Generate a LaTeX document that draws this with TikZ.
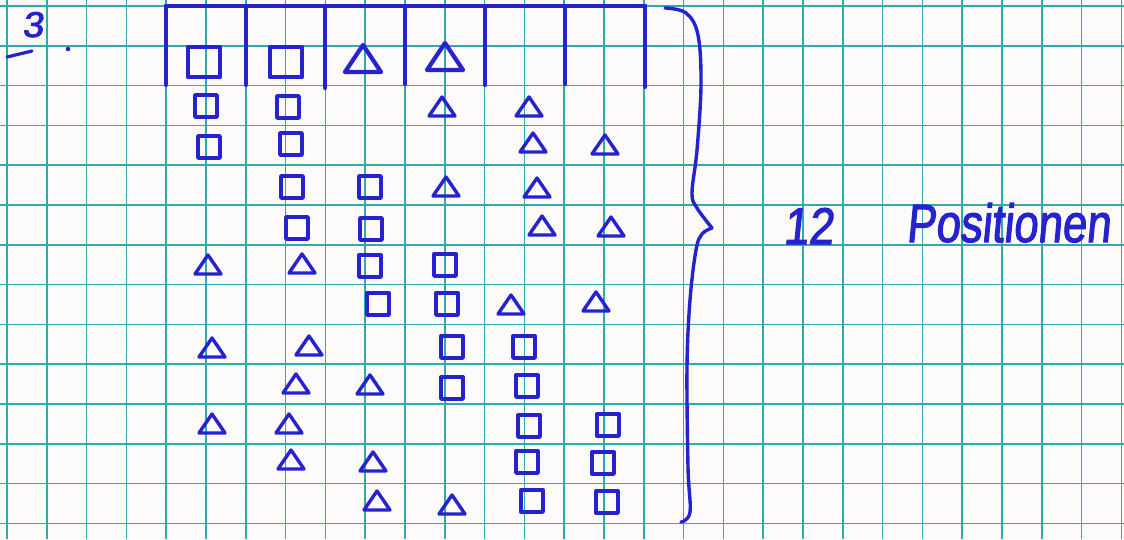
\documentclass[tikz,border=0pt]{standalone}
\usepackage{fontspec}
\setmainfont{Liberation Sans}
\newfontfamily\handfont[FakeBold=2.2, FakeSlant=0.12]{Liberation Sans}
\definecolor{paper}{RGB}{252,251,249}
\definecolor{gridc}{RGB}{48,170,172}
\definecolor{ink}{RGB}{38,34,208}
\tikzset{
  grid line/.style={draw=gridc, line width=1.5pt},
  pen/.style={draw=ink, line width=3.4pt, line cap=round, line join=round},
  bigpen/.style={draw=ink, line width=4.2pt, line cap=round, line join=round},
  sq/.pic={\draw[pen] (-11,-11) rectangle (11,11);},
  tri/.pic={\draw[pen] (-13,9) -- (0,-10) -- (13,9) -- cycle;},
  bigsq/.pic={\draw[bigpen] (-16,-15) rectangle (16,15);},
  bigtri/.pic={\draw[bigpen] (-18,13) -- (0,-14) -- (18,13) -- cycle;},
  hand/.style={text=ink, inner sep=0pt, font=\handfont}
}
\begin{document}
\begin{tikzpicture}[x=1pt, y=-1pt]
\useasboundingbox (0,0) rectangle (1124,539);
\fill[paper] (0,0) rectangle (1124,539);
% graph paper
\foreach \i in {0,...,28} \draw[grid line] ({7+39.8*\i},0) -- ({7+39.8*\i},539);
\foreach \j in {0,...,13} \draw[grid line] (0,{6+39.8*\j}) -- (1124,{6+39.8*\j});

% exercise number
\node[hand, anchor=base west] (num) at (22,37) {\resizebox{21pt}{25pt}{3}};
\coordinate (ulA) at (7,57);
\coordinate (ulB) at (32,51);
\draw[pen, line width=3.2pt] (ulA) -- (ulB);
\fill[ink] (68,49) circle (2.3);

% table header
\draw[bigpen] (166,6) -- (645,6);
\foreach \x/\b in {166/85, 246/85, 325/88, 405/84, 485/85, 565/84, 645/87}
  \draw[bigpen] (\x,6) -- (\x,\b);
\pic at (204,62) {bigsq};
\pic at (286,62) {bigsq};
\pic at (363,59) {bigtri};
\pic at (445,57) {bigtri};

% row 1
\pic at (206,106) {sq}; \pic at (288,107) {sq}; \pic at (442,107) {tri}; \pic at (529,107) {tri};
% row 2
\pic at (209,147) {sq}; \pic at (291,144) {sq}; \pic at (533,143) {tri}; \pic at (605,145) {tri};
% row 3
\pic at (292,187) {sq}; \pic at (370,187) {sq}; \pic at (446,187) {tri}; \pic at (537,188) {tri};
% row 4
\pic at (297,228) {sq}; \pic at (371,229) {sq}; \pic at (542,226) {tri}; \pic at (611,227) {tri};
% row 5
\pic at (208,265) {tri}; \pic at (302,264) {tri}; \pic at (370,266) {sq}; \pic at (445,265) {sq};
% row 6
\pic at (378,304) {sq}; \pic at (447,304) {sq}; \pic at (511,305) {tri}; \pic at (596,302) {tri};
% row 7
\pic at (212,348) {tri}; \pic at (309,346) {tri}; \pic at (452,347) {sq}; \pic at (524,347) {sq};
% row 8
\pic at (296,384) {tri}; \pic at (370,385) {tri}; \pic at (452,388) {sq}; \pic at (527,386) {sq};
% row 9
\pic at (212,424) {tri}; \pic at (289,424) {tri}; \pic at (529,426) {sq}; \pic at (608,425) {sq};
% row 10
\pic at (291,460) {tri}; \pic at (373,462) {tri}; \pic at (527,462) {sq}; \pic at (603,463) {sq};
% row 11
\pic at (377,501) {tri}; \pic at (452,505) {tri}; \pic at (532,501) {sq}; \pic at (607,502) {sq};

% brace
\coordinate (tip) at (712,228);
\draw[pen] plot[smooth, tension=0.6] coordinates {(665,8) (686,13) (698,35) (701,85) (697,150) (692,193) (697,208) (712,228)};
\draw[pen] plot[smooth, tension=0.6] coordinates {(712,228) (702,234) (696,250) (690,300) (687,367) (688,467) (690,512) (681,522)};

% label
\node[hand, anchor=base west] (twelve) at (783,244) {\resizebox{50pt}{36pt}{12}};
\node[hand, anchor=base west] (pos) at (906,242) {\resizebox{204pt}{39pt}{Positionen}};
\end{tikzpicture}
\end{document}
